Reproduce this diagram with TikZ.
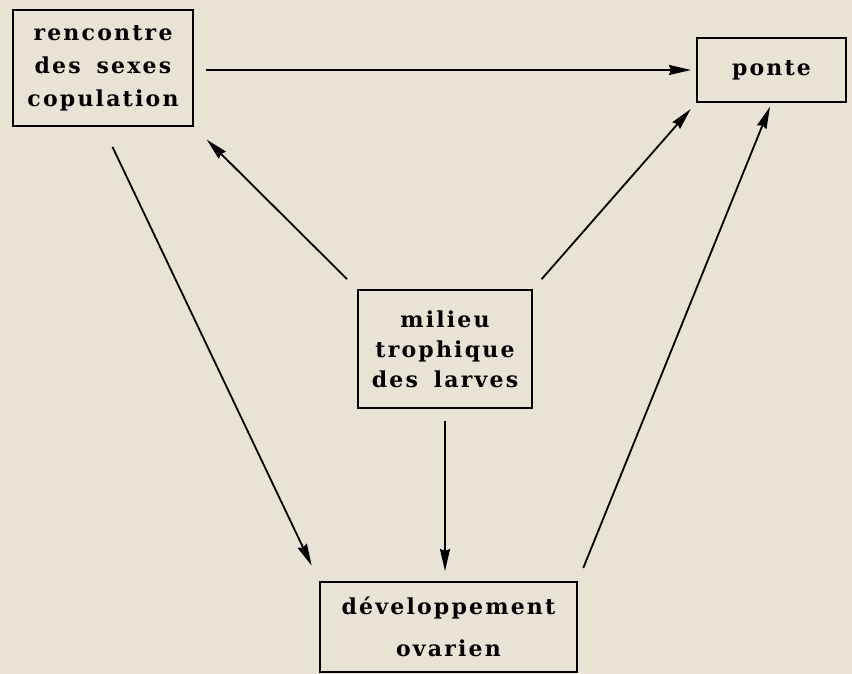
\documentclass[tikz,border=0pt]{standalone}
\usepackage{fontspec}
\newfontfamily\boxfont[LetterSpace=10,WordSpace=1.6]{DejaVu Serif}
\usetikzlibrary{arrows.meta}
\definecolor{papier}{HTML}{E8E3D5}

\begin{document}
\begin{tikzpicture}[x=0.5pt,y=-0.5pt,
  box/.style={draw, line width=1pt, inner sep=0pt, align=center,
    font=\boxfont\bfseries\fontsize{11}{15}\selectfont},
  fl/.style={line width=0.9pt, -{Stealth[length=11pt,width=5pt,inset=1pt]}}]
\fill[papier] (0,0) rectangle (852,674);
\useasboundingbox (0,0) rectangle (852,674);
\node[box, minimum width=90pt, minimum height=58pt](rc) at (103,68){rencontre\\[1.5pt]des sexes\\[1.5pt]copulation};
\node[box, minimum width=74.5pt, minimum height=32pt](pt) at (771.5,70){ponte};
\node[box, minimum width=87pt, minimum height=59pt](mt) at (445,349){milieu\\trophique\\des larves};
\node[box, minimum width=128.5pt, minimum height=45pt](dv) at (448.5,627){développement\\[6pt]ovarien};
\draw[fl, shorten <=6pt, shorten >=2.5pt] (pt.west -| rc.east) -- (pt.west);
\draw[fl, shorten <=7pt, shorten >=9pt] (mt.north west) -- (rc.south east);
\draw[fl, shorten <=6.5pt, shorten >=4pt] (mt.north east) -- (pt.south west);
\draw[fl, shorten <=11pt, shorten >=8.5pt] (rc.south) -- (dv.north west);
\draw[fl, shorten <=6pt, shorten >=5pt] (mt.south) -- (mt.south |- dv.north);
\draw[fl, shorten <=7pt, shorten >=2pt] (dv.north east) -- (pt.south);
\end{tikzpicture}
\end{document}
